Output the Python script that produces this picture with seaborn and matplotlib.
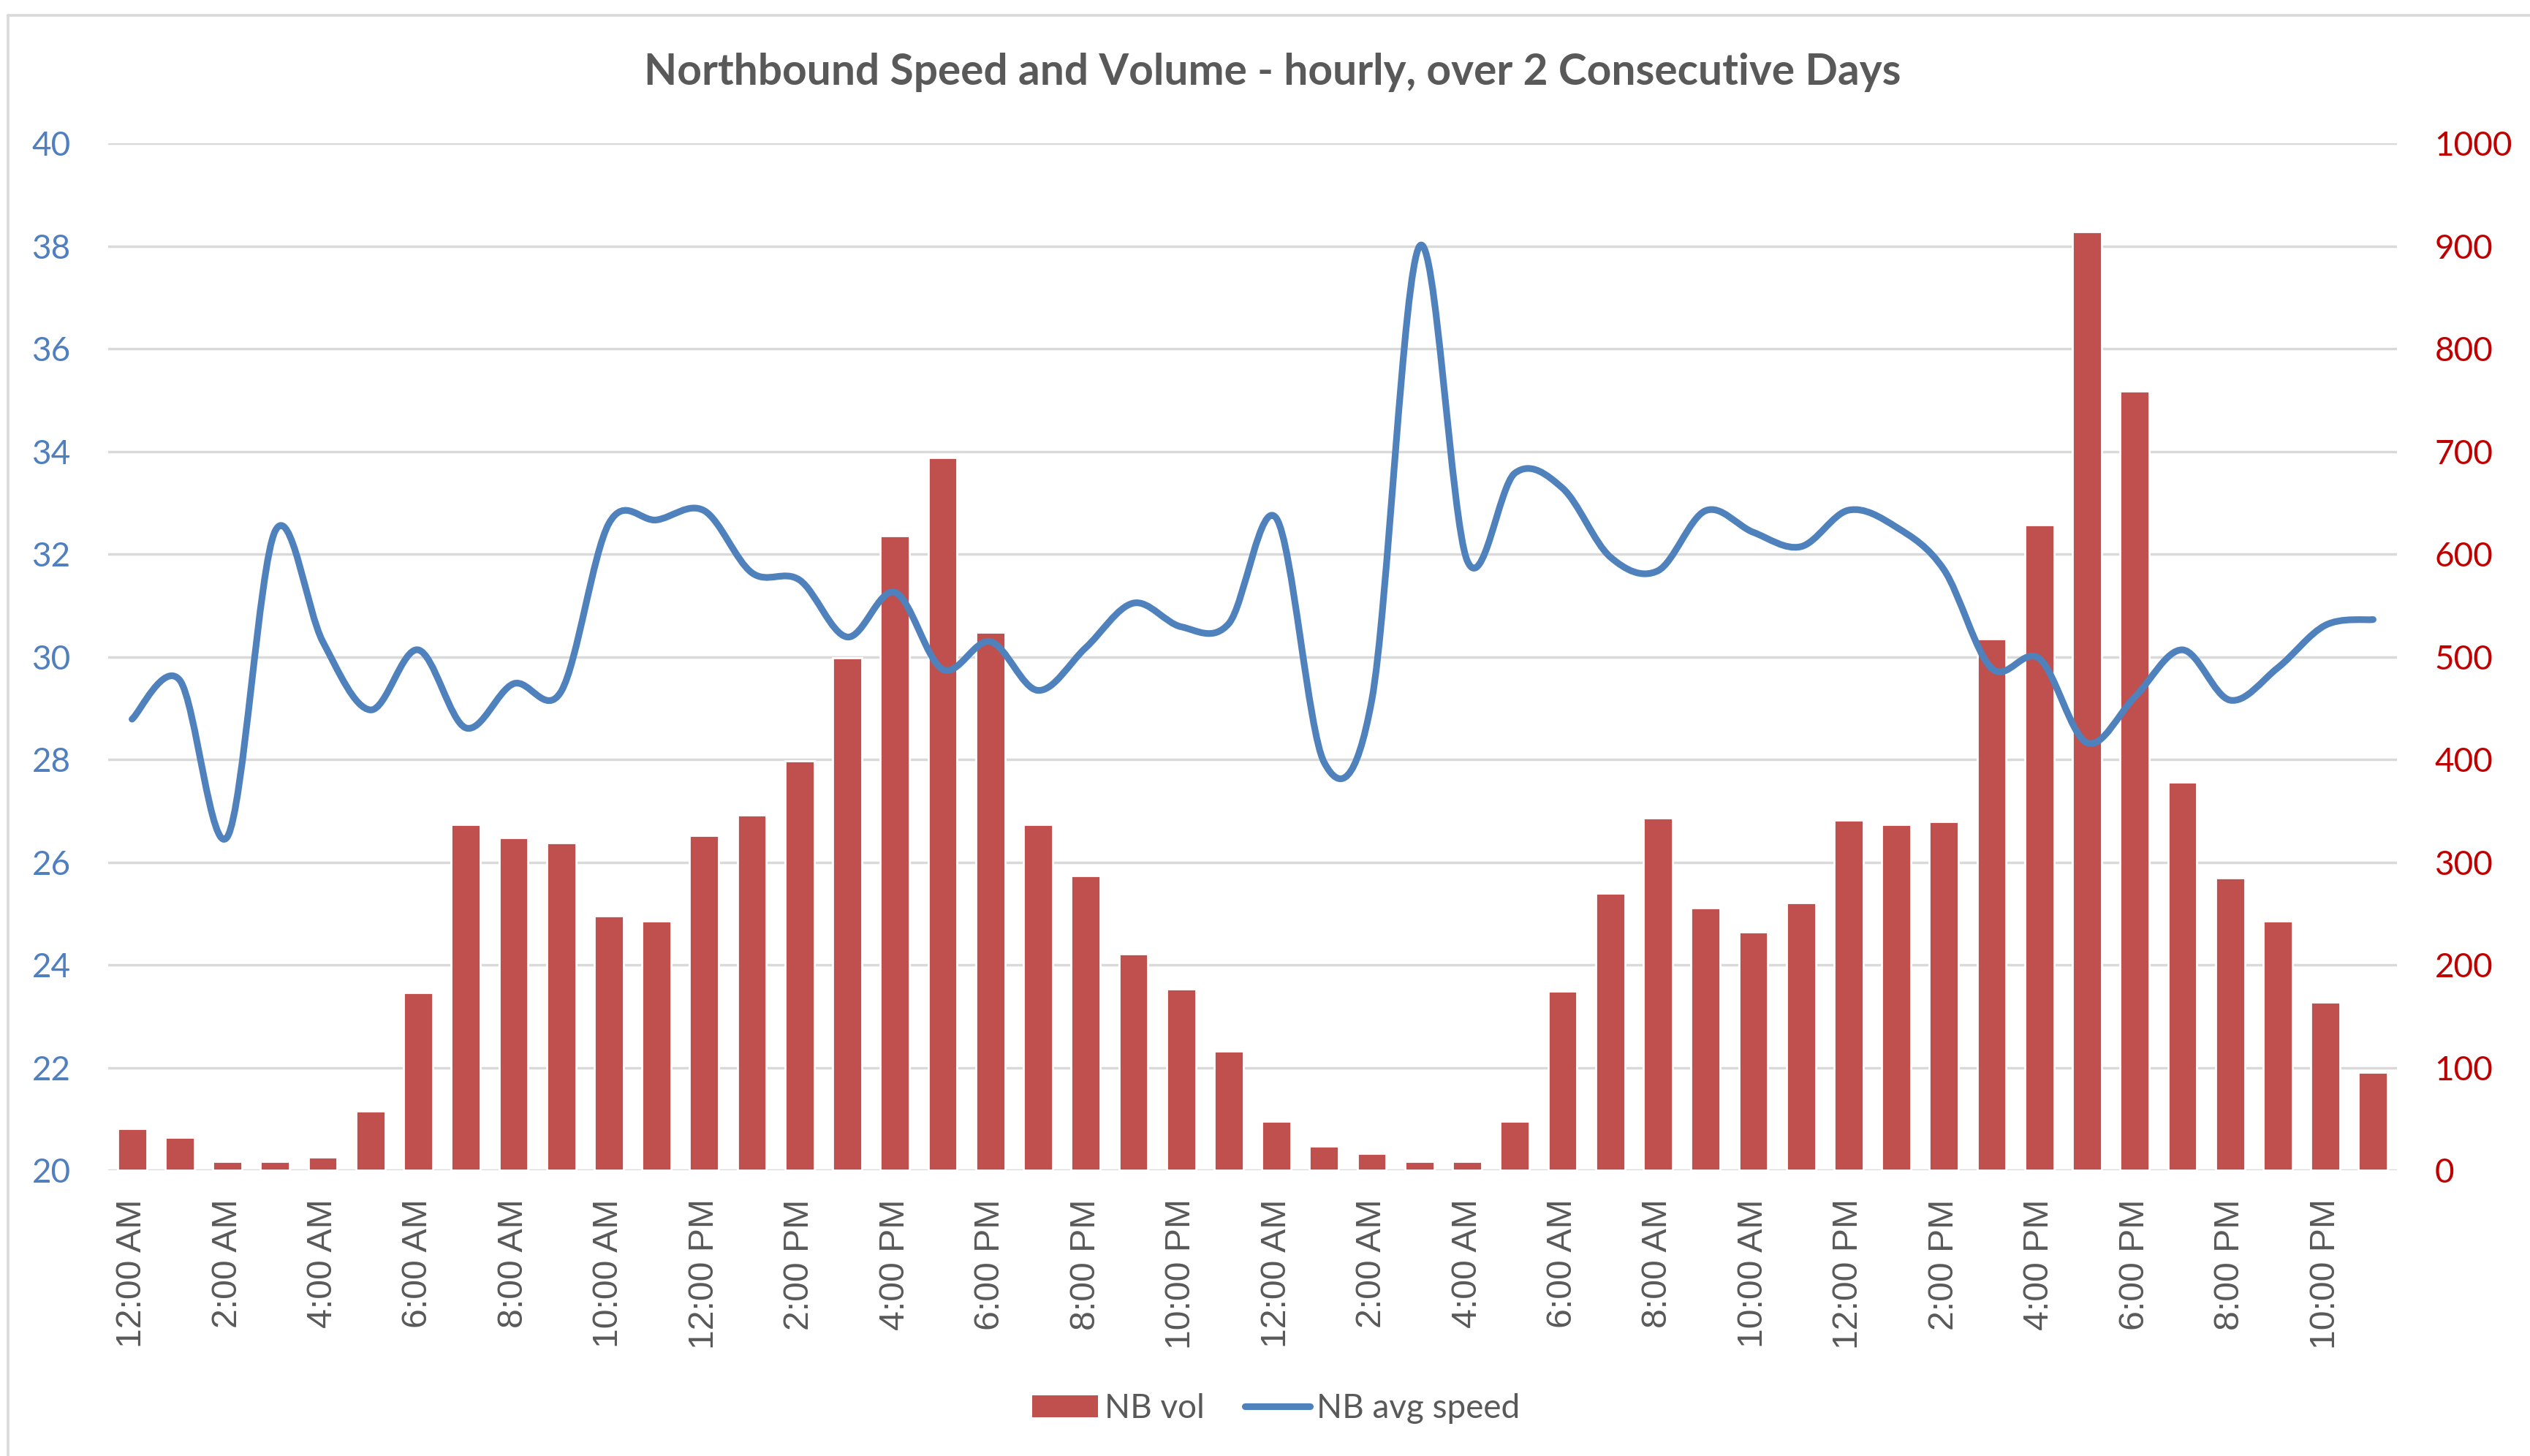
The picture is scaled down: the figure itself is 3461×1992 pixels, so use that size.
import numpy as np
import pandas as pd
import matplotlib
matplotlib.use("Agg")
import matplotlib.pyplot as plt
import seaborn as sns
from matplotlib.path import Path
from matplotlib.patches import PathPatch, Patch
from matplotlib.lines import Line2D

# hourly slots over two consecutive days
hour_names = ["12:00 AM"] + [f"{h}:00 AM" for h in range(1, 12)] + \
             ["12:00 PM"] + [f"{h}:00 PM" for h in range(1, 12)]
hours = hour_names + hour_names

volume = [41, 32, 9, 9, 13, 58, 173, 337, 324, 319, 248, 243,
          326, 346, 399, 499, 618, 694, 524, 337, 287, 211, 177, 116,
          48, 24, 17, 9, 9, 48, 175, 270, 343, 256, 232, 261,
          341, 337, 340, 518, 629, 914, 759, 378, 285, 243, 164, 96]

speed = [28.79, 29.55, 26.50, 32.45, 30.30, 28.97, 30.14, 28.62, 29.48, 29.33, 32.60, 32.67,
         32.85, 31.64, 31.50, 30.39, 31.26, 29.76, 30.30, 29.35, 30.18, 31.05, 30.59, 30.65,
         32.70, 27.95, 29.16, 38.00, 31.88, 33.58, 33.29, 31.95, 31.68, 32.85, 32.43, 32.15,
         32.86, 32.53, 31.70, 29.78, 29.97, 28.33, 29.22, 30.14, 29.16, 29.79, 30.62, 30.73]

df = pd.DataFrame({"slot": np.arange(len(hours)), "hour": hours,
                   "volume": volume, "speed": speed})

BAR = "#C0504D"
LINE = "#4F81BD"
GRID = "#D9D9D9"
TEXT = "#595959"

sns.set_style("white")
plt.rcParams["font.family"] = ["Lato", "DejaVu Sans"]

W, H = 3461, 1992
fig = plt.figure(figsize=(W / 200, H / 200), dpi=200)
ax_vol = fig.add_axes([148 / W, 1 - 1601.4 / H, (3279 - 148) / W, (1601.4 - 196.4) / H])

# volume bars (secondary scale, drawn first)
sns.barplot(data=df, x="slot", y="volume", ax=ax_vol, color=BAR,
            saturation=1, width=0.61, zorder=2)
ax_vol.set_ylim(0, 1000)
ax_vol.set_xlim(-0.5, len(hours) - 0.5)
ax_vol.set_yticks(np.arange(0, 1001, 100))
ax_vol.yaxis.grid(True, color=GRID, lw=1.25)
ax_vol.set_axisbelow(True)
ax_vol.set_xticks(df["slot"][::2])
ax_vol.set_xticklabels(df["hour"][::2], rotation=90, family="Liberation Sans",
                       fontsize=17.4, color=TEXT)
ax_vol.tick_params(axis="x", length=0, pad=14)
ax_vol.set_xlabel("")
ax_vol.set_ylabel("")
for s in ax_vol.spines.values():
    s.set_visible(False)

# average speed, smoothed like a spreadsheet line (bezier through the points)
ax_spd = ax_vol.twinx()
ax_spd.set_ylim(20, 40)
ax_spd.set_yticks(np.arange(20, 41, 2))
for s in ax_spd.spines.values():
    s.set_visible(False)

# volume scale on the right, speed scale on the left
ax_vol.yaxis.set_ticks_position("right")
ax_vol.tick_params(axis="y", which="both", left=False, labelleft=False, right=False,
                   labelright=True, length=0, pad=18.5, labelsize=16.5, labelcolor="#C00000")
ax_spd.yaxis.set_ticks_position("left")
ax_spd.tick_params(axis="y", which="both", right=False, labelright=False, left=False,
                   labelleft=True, length=0, pad=18.5, labelsize=16.5, labelcolor="#4F7FBF")

pts = np.column_stack([df["slot"], df["speed"]]).astype(float)
verts = [pts[0]]
codes = [Path.MOVETO]
n = len(pts)
for i in range(n - 1):
    p0 = pts[max(i - 1, 0)]
    p1 = pts[i]
    p2 = pts[i + 1]
    p3 = pts[min(i + 2, n - 1)]
    verts += [p1 + (p2 - p0) / 6, p2 - (p3 - p1) / 6, p2]
    codes += [Path.CURVE4] * 3
ax_spd.add_patch(PathPatch(Path(verts, codes), facecolor="none", edgecolor=LINE,
                           lw=3.3, capstyle="round", joinstyle="round", zorder=3))

fig.text(1741 / W, 1 - 99 / H, "Northbound Speed and Volume - hourly, over 2 Consecutive Days",
         ha="center", va="center", fontsize=21.1, fontweight="bold", color=TEXT)

handles = [Patch(facecolor=BAR, edgecolor="none"),
           Line2D([0], [0], color=LINE, lw=3.3, solid_capstyle="round")]
fig.legend(handles, ["NB vol", "NB avg speed"], loc="center",
           bbox_to_anchor=(1746 / W, 1 - 1927 / H), ncol=2, frameon=False,
           fontsize=16.5, labelcolor=TEXT, handlelength=1.95, handleheight=0.65,
           handletextpad=0.2, columnspacing=1.2)

# outer chart border
fig.add_artist(Line2D([11 / W, 1], [1 - 21 / H, 1 - 21 / H], color=GRID, lw=1.3))
fig.add_artist(Line2D([11 / W, 11 / W], [0, 1 - 21 / H], color=GRID, lw=1.3))

fig.savefig("out.png", dpi=200)
